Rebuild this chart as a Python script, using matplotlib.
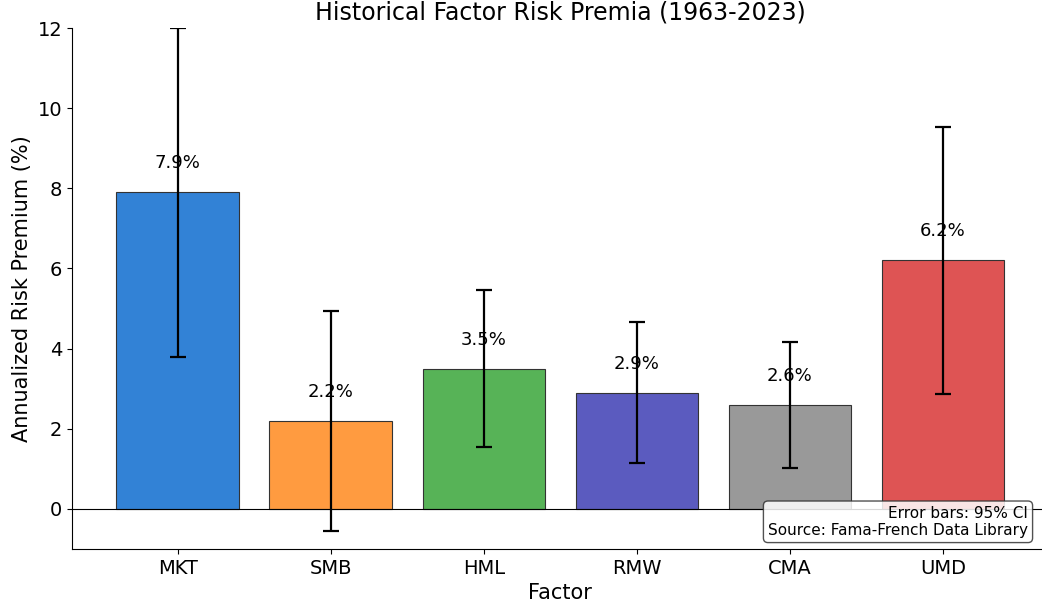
import matplotlib.pyplot as plt

factors = ['MKT', 'SMB', 'HML', 'RMW', 'CMA', 'UMD']
premia = [7.9, 2.2, 3.5, 2.9, 2.6, 6.2]
ci95 = [4.1, 2.75, 1.96, 1.76, 1.57, 3.34]
colors = ['#3282d6', '#ff9b40', '#57b357', '#5b5bbf', '#999999', '#de5454']

fig = plt.figure(figsize=(10.42, 6.11), dpi=100)
ax = fig.add_axes([72 / 1042, 1 - 549 / 611, (1048.6 - 72) / 1042, (549 - 28) / 611])

x = range(len(factors))
ax.bar(x, premia, width=0.8, color=colors, edgecolor='#333333', linewidth=0.8,
       yerr=ci95, capsize=6, error_kw=dict(elinewidth=1.6, capthick=1.6, ecolor='black'))

for xi, v in zip(x, premia):
    ax.text(xi, v + 0.5, f'{v:.1f}%', ha='center', va='bottom', fontsize=13)

ax.axhline(0, color='black', linewidth=0.8)
ax.set_xticks(list(x))
ax.set_xticklabels(factors)
ax.set_ylim(-1, 12)
ax.set_xlim(-0.69, 5.69)
ax.tick_params(labelsize=14)
ax.set_xlabel('Factor', fontsize=15)
ax.set_ylabel('Annualized Risk Premium (%)', fontsize=15)
ax.set_title('Historical Factor Risk Premia (1963-2023)', fontsize=17, pad=6)
ax.spines['top'].set_visible(False)
ax.spines['right'].set_visible(False)

fig.text(1028 / 1042, 1 - 538 / 611, 'Error bars: 95% CI\nSource: Fama-French Data Library',
         ha='right', va='bottom', fontsize=11, multialignment='right',
         bbox=dict(boxstyle='round,pad=0.3', facecolor='white', edgecolor='#333333', alpha=0.85))

fig.savefig('out.png', dpi=100)
